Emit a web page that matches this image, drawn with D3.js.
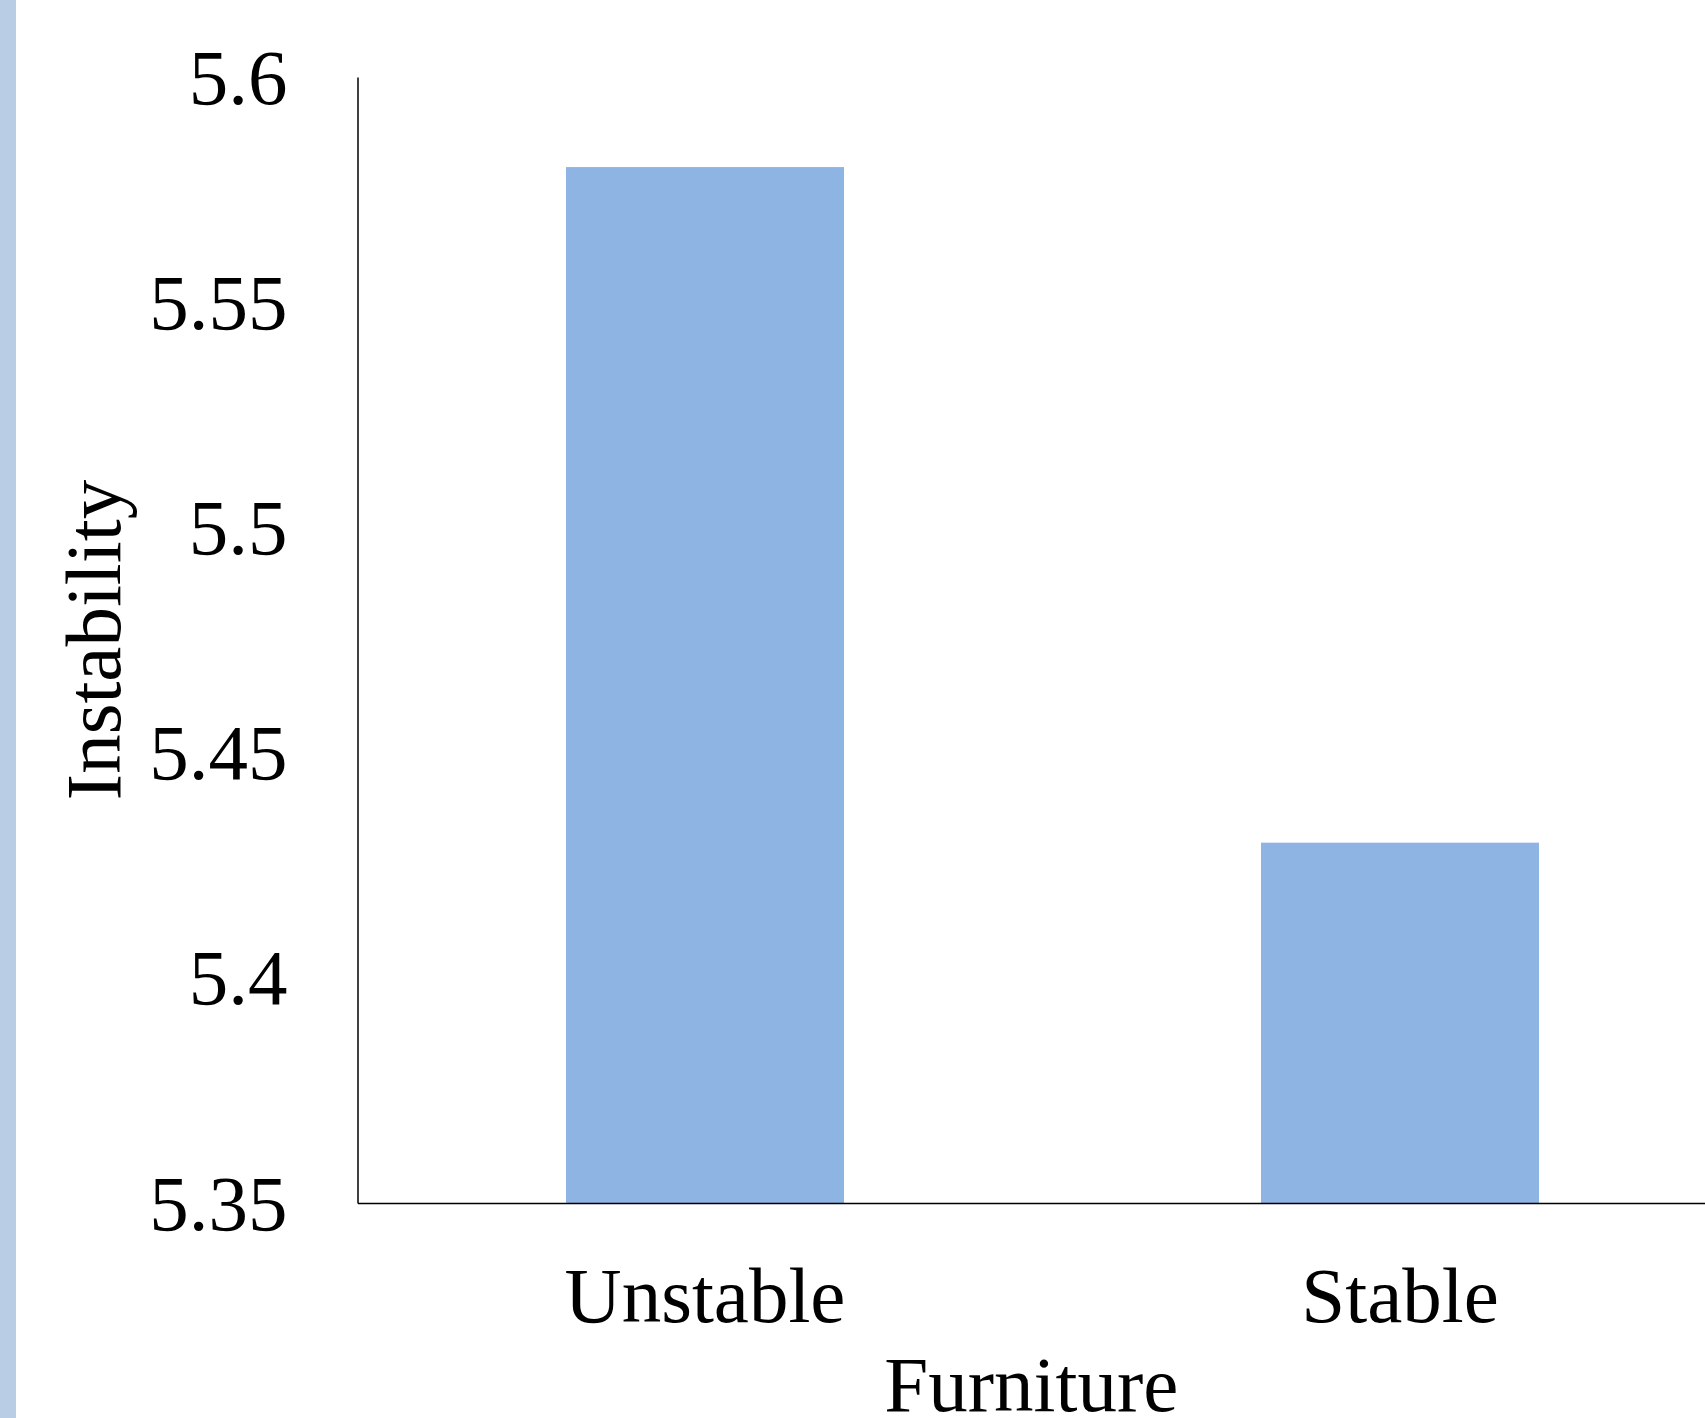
<!DOCTYPE html>
<html>
<head>
<meta charset="utf-8">
<script src="https://cdn.jsdelivr.net/npm/d3@7"></script>
<style>
html,body{margin:0;padding:0;background:#fff;overflow:hidden;}
svg{display:block;}
text{font-family:"Liberation Serif","Times New Roman",serif;fill:#000;}
</style>
</head>
<body>
<svg id="chart" width="1705" height="1418"></svg>
<script>
const categories = ["Unstable", "Stable"];
const values = [5.58, 5.43];
const yTicks = [5.35, 5.4, 5.45, 5.5, 5.55, 5.6];
const yTickLabels = ["5.35", "5.4", "5.45", "5.5", "5.55", "5.6"];
const xTitle = "Furniture";
const yTitle = "Instability";

(function () {
const svg = d3.select("#chart");
const W = 1705, H = 1418;
const plotLeft = 357.5, plotTop = 77, plotBottom = 1203, plotRight = 1747.5;
const fs = 79;

svg.append("rect").attr("x", 0).attr("y", 0).attr("width", 16).attr("height", H).attr("fill", "#b9cde5");

const x = d3.scaleBand().domain(categories).range([plotLeft, plotRight]).paddingInner(0.6).paddingOuter(0.3);
const y = d3.scaleLinear().domain([5.35, 5.6]).range([plotBottom, plotTop]);

svg.append("g").selectAll("rect").data(categories).join("rect")
  .attr("x", d => x(d))
  .attr("y", (d, i) => y(values[i]))
  .attr("width", x.bandwidth())
  .attr("height", (d, i) => plotBottom - y(values[i]))
  .attr("fill", "#8eb4e3");

const yAxis = svg.append("g").attr("transform", `translate(${plotLeft},0)`)
  .call(d3.axisLeft(y).tickValues(yTicks).tickFormat((d, i) => yTickLabels[i]).tickSize(0).tickPadding(70));
yAxis.select(".domain").attr("stroke", "#000").attr("stroke-width", 1.5);
yAxis.selectAll("text").attr("font-size", fs).attr("font-family", "Liberation Serif").attr("dy", "0.33em").attr("fill", "#000");

const xAxis = svg.append("g").attr("transform", `translate(0,${plotBottom})`)
  .call(d3.axisBottom(x).tickSize(0).tickPadding(119));
xAxis.select(".domain").attr("stroke", "#000").attr("stroke-width", 1.5);
xAxis.selectAll("text").attr("font-size", fs).attr("font-family", "Liberation Serif").attr("dy", "0").attr("fill", "#000");

svg.append("text").attr("x", (plotLeft + W) / 2).attr("y", 1411)
  .attr("text-anchor", "middle").attr("font-size", fs).text(xTitle);

svg.append("text").attr("transform", `translate(120,${(plotTop + plotBottom) / 2}) rotate(-90)`)
  .attr("text-anchor", "middle").attr("font-size", fs).text(yTitle);
})();
</script>
</body>
</html>
